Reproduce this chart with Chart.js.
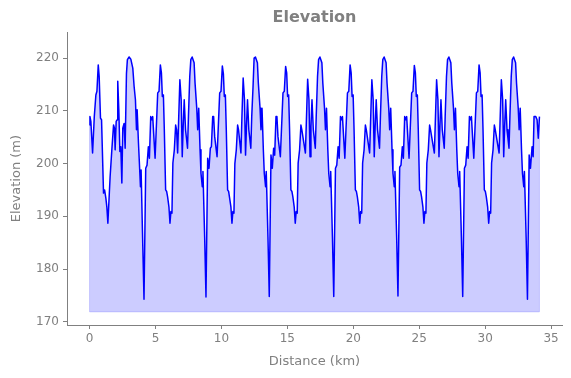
<!DOCTYPE html>
<html>
<head>
<meta charset="utf-8">
<script src="https://cdn.jsdelivr.net/npm/chart.js@4.4.1/dist/chart.umd.min.js"></script>
<style>
  html, body { margin: 0; padding: 0; background: #fff; }
  #wrap { width: 571px; height: 378px; }
</style>
</head>
<body>
<div id="wrap"><canvas id="elevChart" width="571" height="378"></canvas></div>
<script>
"use strict";

// Distance (km) and elevation (m), one pair of arrays per lap of the loop
const lap1Km = [0.00, 0.03, 0.10, 0.23, 0.36, 0.48, 0.56, 0.66, 0.73, 0.83, 0.91, 1.06, 1.14, 1.24, 1.31, 1.39, 1.56, 1.69, 1.82, 1.89, 1.94, 2.02, 2.09, 2.14, 2.22, 2.30, 2.37, 2.45, 2.52, 2.62, 2.70, 2.80, 2.87, 3.00, 3.13, 3.28, 3.38, 3.48, 3.56, 3.61, 3.71, 3.78, 3.86, 3.91, 4.01, 4.13];
const lap1Elev = [207.3, 208.9, 208.0, 202.0, 208.9, 213.0, 213.7, 218.7, 216.5, 208.6, 208.3, 194.4, 195.0, 193.4, 191.8, 188.7, 197.5, 202.6, 207.3, 206.7, 202.6, 208.0, 208.3, 215.6, 210.2, 202.3, 203.2, 196.3, 206.7, 207.6, 202.9, 217.1, 219.7, 220.2, 219.8, 218.1, 214.6, 212.1, 206.4, 210.2, 203.9, 200.1, 195.6, 198.8, 187.4, 174.3];

const lap2Km = [4.26, 4.36, 4.46, 4.54, 4.64, 4.71, 4.79, 4.97, 5.17, 5.27, 5.37, 5.45, 5.52, 5.60, 5.67, 5.77, 5.85, 5.92, 6.02, 6.10, 6.17, 6.25, 6.32, 6.43, 6.53, 6.60, 6.68, 6.75, 6.85, 6.95, 7.03, 7.10, 7.18, 7.28, 7.35, 7.43, 7.50, 7.60, 7.68, 7.78, 7.93, 8.00, 8.13, 8.20, 8.28, 8.38, 8.45, 8.55, 8.60, 8.73, 8.83];
const lap2Elev = [199.1, 199.7, 203.2, 201.0, 208.9, 208.3, 208.9, 201.0, 213.4, 213.7, 218.7, 217.2, 212.7, 213.0, 206.4, 195.0, 194.7, 193.7, 191.8, 188.7, 190.9, 190.6, 200.1, 202.6, 207.3, 206.4, 202.0, 207.7, 215.9, 212.1, 201.3, 207.0, 212.1, 206.4, 204.8, 202.9, 208.9, 216.5, 219.7, 220.2, 219.1, 215.3, 210.5, 206.4, 210.5, 202.6, 198.2, 195.6, 198.5, 186.1, 174.7];

const lap3Km = [8.96, 9.06, 9.16, 9.24, 9.34, 9.41, 9.49, 9.67, 9.87, 9.97, 10.07, 10.15, 10.22, 10.30, 10.37, 10.47, 10.55, 10.62, 10.72, 10.80, 10.87, 10.95, 11.02, 11.13, 11.23, 11.30, 11.48, 11.55, 11.65, 11.75, 11.83, 11.90, 11.98, 12.08, 12.15, 12.23, 12.30, 12.40, 12.48, 12.58, 12.73, 12.80, 12.93, 13.00, 13.08, 13.18, 13.25, 13.35, 13.40, 13.53, 13.63];
const lap3Elev = [201.0, 199.1, 202.9, 203.2, 208.9, 208.9, 205.1, 201.3, 213.4, 213.7, 218.5, 217.0, 212.7, 213.0, 206.4, 195.0, 194.7, 193.5, 191.8, 188.7, 190.9, 190.6, 200.0, 202.6, 207.3, 206.4, 202.0, 208.3, 216.2, 212.1, 201.6, 207.0, 212.1, 206.4, 204.8, 202.9, 208.9, 214.6, 220.0, 220.2, 219.1, 215.3, 210.5, 206.4, 210.5, 202.6, 198.2, 195.6, 198.5, 186.1, 174.8];

const lap4Km = [13.76, 13.86, 13.96, 14.04, 14.14, 14.21, 14.29, 14.47, 14.67, 14.77, 14.87, 14.95, 15.02, 15.10, 15.17, 15.27, 15.35, 15.42, 15.52, 15.60, 15.67, 15.75, 15.82, 15.93, 16.03, 16.10, 16.37, 16.44, 16.54, 16.64, 16.72, 16.79, 16.87, 16.97, 17.04, 17.12, 17.19, 17.29, 17.37, 17.47, 17.62, 17.69, 17.82, 17.89, 17.97, 18.07, 18.14, 18.24, 18.29, 18.42, 18.52];
const lap4Elev = [201.6, 199.1, 202.9, 201.6, 208.9, 208.9, 205.1, 201.3, 213.4, 213.7, 218.4, 217.2, 212.7, 213.0, 206.4, 195.0, 194.7, 193.7, 191.8, 188.7, 190.9, 190.6, 200.1, 202.6, 207.3, 206.4, 202.0, 207.7, 216.0, 212.1, 201.3, 207.0, 212.1, 206.4, 204.8, 202.9, 208.9, 216.5, 219.7, 220.2, 219.1, 215.3, 210.5, 206.4, 210.5, 202.6, 198.2, 195.6, 198.5, 186.1, 174.8];

const lap5Km = [18.65, 18.75, 18.85, 18.93, 19.03, 19.10, 19.18, 19.36, 19.56, 19.66, 19.76, 19.84, 19.91, 19.99, 20.06, 20.16, 20.24, 20.31, 20.41, 20.49, 20.56, 20.64, 20.71, 20.82, 20.92, 20.99, 21.24, 21.31, 21.41, 21.51, 21.59, 21.66, 21.74, 21.84, 21.91, 21.99, 22.06, 22.16, 22.24, 22.34, 22.49, 22.56, 22.69, 22.76, 22.84, 22.94, 23.01, 23.11, 23.16, 23.29, 23.39];
const lap5Elev = [199.1, 199.7, 203.2, 201.0, 208.9, 208.3, 208.9, 201.0, 213.4, 213.7, 218.7, 217.2, 212.7, 213.0, 206.4, 195.0, 194.7, 193.7, 191.8, 188.7, 190.9, 190.6, 200.1, 202.6, 207.3, 206.4, 202.0, 207.7, 215.9, 212.1, 201.3, 207.0, 212.1, 206.4, 204.8, 202.9, 208.9, 216.5, 219.7, 220.2, 219.1, 215.3, 210.5, 206.4, 210.5, 202.6, 198.2, 195.6, 198.5, 186.1, 174.9];

const lap6Km = [23.52, 23.62, 23.72, 23.80, 23.90, 23.97, 24.05, 24.23, 24.43, 24.53, 24.63, 24.71, 24.78, 24.86, 24.93, 25.03, 25.11, 25.18, 25.28, 25.36, 25.43, 25.51, 25.58, 25.69, 25.79, 25.86, 26.15, 26.22, 26.32, 26.42, 26.50, 26.57, 26.65, 26.75, 26.82, 26.90, 26.97, 27.07, 27.15, 27.25, 27.40, 27.47, 27.60, 27.67, 27.75, 27.85, 27.92, 28.02, 28.07, 28.20, 28.30];
const lap6Elev = [199.3, 199.7, 203.2, 201.0, 208.9, 208.3, 208.9, 201.0, 213.4, 213.7, 218.6, 217.2, 212.7, 213.0, 206.4, 195.0, 194.7, 193.7, 191.8, 188.7, 190.9, 190.6, 200.1, 202.6, 207.3, 206.4, 202.0, 207.7, 215.9, 212.1, 201.3, 207.0, 212.1, 206.4, 204.8, 202.9, 208.9, 216.5, 219.7, 220.2, 219.1, 215.3, 210.5, 206.4, 210.5, 202.6, 198.2, 195.6, 198.5, 186.1, 174.8];

const lap7Km = [28.43, 28.53, 28.63, 28.71, 28.81, 28.88, 28.96, 29.14, 29.34, 29.44, 29.54, 29.62, 29.69, 29.77, 29.84, 29.94, 30.02, 30.09, 30.19, 30.27, 30.34, 30.42, 30.49, 30.60, 30.70, 30.77, 31.06, 31.13, 31.23, 31.33, 31.41, 31.48, 31.56, 31.66, 31.73, 31.81, 31.88, 31.98, 32.06, 32.16, 32.31, 32.38, 32.51, 32.58, 32.66, 32.76, 32.83, 32.93, 32.98, 33.11, 33.21, 33.34, 33.44, 33.56, 33.64, 33.71, 33.84, 33.94, 34.03, 34.12];
const lap7Elev = [199.1, 199.7, 203.2, 201.0, 208.9, 208.3, 208.9, 201.0, 213.4, 213.7, 218.7, 217.2, 212.7, 213.0, 206.4, 195.0, 194.7, 193.7, 191.8, 188.7, 190.9, 190.6, 200.1, 202.6, 207.3, 206.4, 202.0, 207.7, 215.9, 212.1, 201.3, 207.0, 212.1, 206.4, 204.8, 202.9, 208.9, 216.5, 219.7, 220.2, 219.1, 215.3, 210.5, 206.4, 210.5, 202.6, 198.2, 195.6, 198.5, 186.1, 174.3, 201.6, 199.1, 203.2, 201.3, 208.9, 208.9, 208.3, 204.8, 208.9];

const X_TICKS = [0, 5, 10, 15, 20, 25, 30, 35];
const Y_TICKS = [170, 180, 190, 200, 210, 220];
const BASE_ELEV = 171.9;

const GRAY = "#808080";
const FONT = "'DejaVu Sans', sans-serif";

const distanceKm = [].concat(lap1Km, lap2Km, lap3Km, lap4Km, lap5Km, lap6Km, lap7Km);
const elevationM = [].concat(lap1Elev, lap2Elev, lap3Elev, lap4Elev, lap5Elev, lap6Elev, lap7Elev);
const points = distanceKm.map((d, i) => ({ x: d, y: elevationM[i] }));

// thin outline round the filled area, like the edge of a matplotlib fill_between
const fillEdge = {
  id: "fillEdge",
  afterDatasetsDraw(chart) {
    const { ctx, scales: { x, y } } = chart;
    const first = points[0];
    const last = points[points.length - 1];
    const yBase = y.getPixelForValue(BASE_ELEV);
    ctx.save();
    ctx.strokeStyle = "rgba(0, 0, 255, 0.2)";
    ctx.lineWidth = 1;
    ctx.beginPath();
    ctx.moveTo(x.getPixelForValue(first.x), y.getPixelForValue(first.y));
    ctx.lineTo(x.getPixelForValue(first.x), yBase);
    ctx.lineTo(x.getPixelForValue(last.x), yBase);
    ctx.lineTo(x.getPixelForValue(last.x), y.getPixelForValue(last.y));
    ctx.stroke();
    ctx.restore();
  }
};

const ctx = document.getElementById("elevChart").getContext("2d");

new Chart(ctx, {
  type: "line",
  data: {
    datasets: [{
      data: points,
      borderColor: "#0000ff",
      borderWidth: 1.5,
      borderJoinStyle: "round",
      pointRadius: 0,
      tension: 0,
      fill: { value: BASE_ELEV },
      backgroundColor: "rgba(0, 0, 255, 0.2)"
    }]
  },
  plugins: [fillEdge],
  options: {
    responsive: false,
    animation: false,
    layout: { padding: { left: 0, right: 9, top: 0, bottom: 0 } },
    plugins: {
      legend: { display: false },
      tooltip: { enabled: false },
      title: {
        display: true,
        text: "Elevation",
        color: GRAY,
        fullSize: false,
        font: { family: FONT, size: 16, weight: "bold" },
        padding: { top: 8, bottom: 5 }
      }
    },
    scales: {
      x: {
        type: "linear",
        min: -1.71,
        max: 35.83,
        afterBuildTicks: scale => { scale.ticks = X_TICKS.map(v => ({ value: v })); },
        afterFit: scale => { scale.height = 53; },
        grid: { drawOnChartArea: false, tickLength: 4, color: GRAY },
        border: { color: GRAY },
        ticks: { color: GRAY, font: { family: FONT, size: 12 }, padding: 3, maxRotation: 0 },
        title: {
          display: true,
          text: "Distance (km)",
          color: GRAY,
          font: { family: FONT, size: 13 },
          padding: { top: 0, bottom: 9 }
        }
      },
      y: {
        min: 169.4,
        max: 224.9,
        afterBuildTicks: scale => { scale.ticks = Y_TICKS.map(v => ({ value: v })); },
        afterFit: scale => { scale.width = 67; },
        grid: { drawOnChartArea: false, tickLength: 4, color: GRAY },
        border: { color: GRAY },
        ticks: { color: GRAY, font: { family: FONT, size: 12 }, padding: 4 },
        title: {
          display: true,
          text: "Elevation (m)",
          color: GRAY,
          font: { family: FONT, size: 13 },
          padding: { top: 9, bottom: 0 }
        }
      }
    }
  }
});
</script>
</body>
</html>
